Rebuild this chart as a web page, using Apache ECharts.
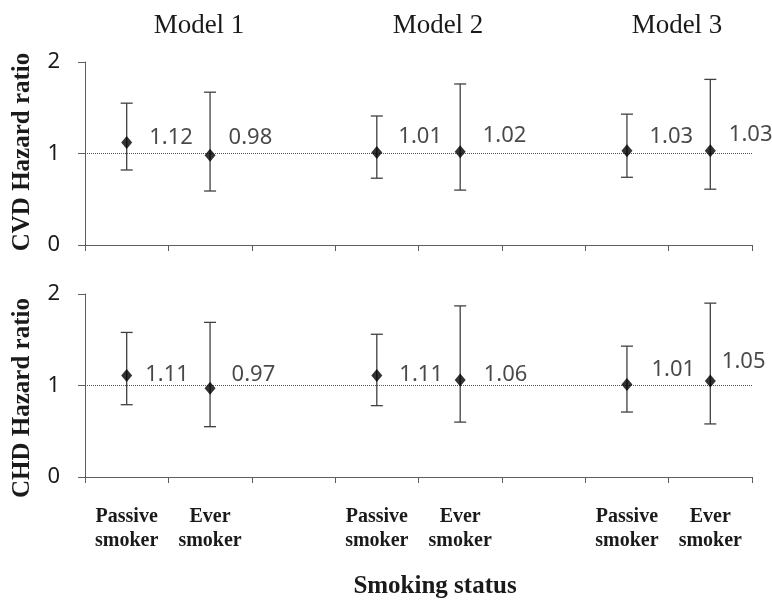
<!DOCTYPE html>
<html>
<head>
<meta charset="utf-8">
<script src="https://cdn.jsdelivr.net/npm/echarts@6/dist/echarts.min.js"></script>
<style>
  html, body { margin: 0; padding: 0; background: #fff; }
  #chart { width: 772px; height: 604px; }
</style>
</head>
<body>
<div id="chart"></div>
<script>
// Category slots: two smoking groups per model, with an empty slot between models
const categories = ['Passive\nsmoker', 'Ever\nsmoker', '', 'Passive\nsmoker', 'Ever\nsmoker', '', 'Passive\nsmoker', 'Ever\nsmoker'];
const modelNames = ['Model 1', 'Model 2', 'Model 3'];
const yTicks = [0, 1, 2];

// CVD hazard ratios with 95% CI
const cvdHR    = [1.12, 0.98, null, 1.01, 1.02, null, 1.03, 1.03];
const cvdLower = [0.82, 0.59, null, 0.73, 0.60, null, 0.74, 0.61];
const cvdUpper = [1.55, 1.67, null, 1.41, 1.76, null, 1.43, 1.81];

// CHD hazard ratios with 95% CI
const chdHR    = [1.11, 0.97, null, 1.11, 1.06, null, 1.01, 1.05];
const chdLower = [0.79, 0.55, null, 0.78, 0.60, null, 0.71, 0.58];
const chdUpper = [1.58, 1.69, null, 1.56, 1.87, null, 1.43, 1.90];

// Small nudges [dx, dy] for the value labels
const cvdLabelNudge = [[1, -5], [-3, -18], null, [0, -16], [1, -16], null, [1, -14], [-3, -16]];
const chdLabelNudge = [[-3, -1], [0, -14], null, [1, -1], [2, -5], null, [3, -15], [-10, -19]];

const AXIS_COLOR = '#5e5e5e';
const BAR_COLOR = '#404040';
const TEXT_COLOR = '#1a1a1a';

const chart = echarts.init(document.getElementById('chart'), null, { renderer: 'canvas' });

function errorBarSeries(gridIdx, lower, upper) {
  const data = [];
  lower.forEach((lo, i) => { if (lo != null) data.push([i, lo, upper[i]]); });
  return {
    type: 'custom',
    xAxisIndex: gridIdx,
    yAxisIndex: gridIdx,
    silent: true,
    z: 2,
    data: data,
    encode: { x: 0, y: [1, 2] },
    renderItem: function (params, api) {
      const lo = api.coord([api.value(0), api.value(1)]);
      const hi = api.coord([api.value(0), api.value(2)]);
      const half = 6;
      const style = { stroke: BAR_COLOR, lineWidth: 1.3, fill: null };
      return {
        type: 'group',
        children: [
          { type: 'line', shape: { x1: lo[0], y1: lo[1], x2: hi[0], y2: hi[1] }, style: style },
          { type: 'line', shape: { x1: hi[0] - half, y1: hi[1], x2: hi[0] + half, y2: hi[1] }, style: style },
          { type: 'line', shape: { x1: lo[0] - half, y1: lo[1], x2: lo[0] + half, y2: lo[1] }, style: style }
        ]
      };
    }
  };
}

function pointSeries(gridIdx, values, nudges) {
  return {
    type: 'scatter',
    xAxisIndex: gridIdx,
    yAxisIndex: gridIdx,
    symbol: 'diamond',
    symbolSize: [11, 13],
    z: 4,
    itemStyle: { color: '#000' },
    data: values.map((v, i) => v == null ? null : {
      value: [i, v],
      label: { offset: nudges[i] }
    }).filter(d => d != null),
    label: {
      show: true,
      position: 'right',
      distance: 16,
      fontFamily: 'Noto Sans',
      fontSize: 22,
      color: TEXT_COLOR,
      formatter: p => p.value[1].toFixed(2)
    },
    markLine: {
      silent: true,
      symbol: 'none',
      label: { show: false },
      lineStyle: { type: [1, 1], color: '#555', width: 1 },
      data: [{ yAxis: 1 }],
      z: 1
    }
  };
}

function xAxis(gridIdx, showLabels) {
  return {
    type: 'category',
    gridIndex: gridIdx,
    data: categories,
    boundaryGap: true,
    axisLine: { lineStyle: { color: AXIS_COLOR, width: 1 } },
    axisTick: { show: true, length: 6, lineStyle: { color: AXIS_COLOR } },
    axisLabel: {
      show: showLabels,
      interval: 0,
      margin: 28,
      fontFamily: 'Liberation Serif',
      fontWeight: 'bold',
      fontSize: 20,
      lineHeight: 24,
      color: TEXT_COLOR
    },
    splitLine: { show: false }
  };
}

function yAxis(gridIdx) {
  return {
    type: 'value',
    gridIndex: gridIdx,
    min: yTicks[0],
    max: yTicks[yTicks.length - 1],
    interval: 1,
    axisLine: { show: true, lineStyle: { color: AXIS_COLOR, width: 1 } },
    axisTick: { show: true, length: 7, lineStyle: { color: AXIS_COLOR } },
    axisLabel: {
      margin: 25,
      fontFamily: 'Noto Sans',
      fontSize: 22,
      color: TEXT_COLOR
    },
    splitLine: { show: false }
  };
}

const serif = 'Liberation Serif';
const modelCenters = [199, 438, 677];

const option = {
  backgroundColor: '#fff',
  animation: false,
  grid: [
    { left: 85, right: 20, top: 62, height: 183 },
    { left: 85, right: 20, top: 294, height: 183 }
  ],
  xAxis: [xAxis(0, false), xAxis(1, true)],
  yAxis: [yAxis(0), yAxis(1)],
  series: [
    errorBarSeries(0, cvdLower, cvdUpper),
    pointSeries(0, cvdHR, cvdLabelNudge),
    errorBarSeries(1, chdLower, chdUpper),
    pointSeries(1, chdHR, chdLabelNudge)
  ],
  graphic: [
    ...modelNames.map((name, i) => ({
      type: 'text',
      x: modelCenters[i],
      y: 26,
      style: {
        text: name,
        fontFamily: serif,
        fontSize: 27,
        fill: TEXT_COLOR,
        textAlign: 'center',
        textVerticalAlign: 'middle'
      }
    })),
    {
      type: 'text',
      x: 23, y: 152,
      rotation: Math.PI / 2,
      style: {
        text: 'CVD Hazard ratio',
        fontFamily: serif, fontWeight: 'bold', fontSize: 25,
        fill: TEXT_COLOR, textAlign: 'center', textVerticalAlign: 'middle'
      }
    },
    {
      type: 'text',
      x: 23, y: 398,
      rotation: Math.PI / 2,
      style: {
        text: 'CHD Hazard ratio',
        fontFamily: serif, fontWeight: 'bold', fontSize: 25,
        fill: TEXT_COLOR, textAlign: 'center', textVerticalAlign: 'middle'
      }
    },
    {
      type: 'text',
      x: 435, y: 587,
      style: {
        text: 'Smoking status',
        fontFamily: serif, fontWeight: 'bold', fontSize: 25,
        fill: TEXT_COLOR, textAlign: 'center', textVerticalAlign: 'middle'
      }
    }
  ]
};

chart.setOption(option);
</script>
</body>
</html>
